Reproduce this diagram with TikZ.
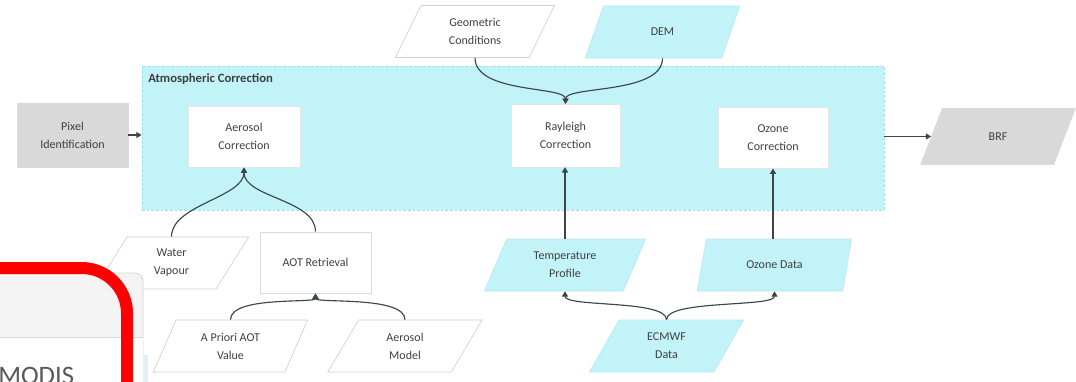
\documentclass[tikz,border=0pt]{standalone}
\usepackage{fontspec}
\setmainfont{Carlito}
\usetikzlibrary{shapes.geometric,arrows.meta}
\definecolor{cyfill}{HTML}{C1F3F8}
\definecolor{cyedge}{HTML}{9EDFE8}
\definecolor{grfill}{HTML}{D9D9D9}
\definecolor{txt}{HTML}{404040}
\definecolor{lnk}{HTML}{3A4648}
\definecolor{pgray}{HTML}{F4F4F4}
\definecolor{pedge}{HTML}{D6D6D6}
\tikzset{
  lbl/.style={font=\fontsize{9}{13.5}\selectfont, text=txt, align=center, inner sep=0pt},
  procbox/.style={lbl, rectangle, draw=black!10, fill=white, line width=0.5pt},
  databox/.style={lbl, trapezium, trapezium left angle=65, trapezium right angle=115,
     trapezium stretches=true, draw=black!18, fill=white, line width=0.5pt,
     minimum width=116pt, minimum height=39pt},
  cydata/.style={databox, draw=cyedge!70, fill=cyfill},
  grdata/.style={databox, draw=grfill, fill=grfill},
  arr/.style={draw=lnk, line width=0.85pt, -{Triangle[width=4.5pt,length=4pt]}}
}
\begin{document}
\begin{tikzpicture}[x=0.75pt,y=-0.75pt]
\useasboundingbox (0,0) rectangle (1076,382);
\clip (0,0) rectangle (1076,382);
\fill[white] (0,0) rectangle (1076,382);

% atmospheric correction container
\node[draw=cyedge, fill=cyfill, dash pattern=on 2pt off 1.5pt, line width=0.6pt,
      minimum width=556.5pt, minimum height=108pt, inner sep=0pt] (atm) at (513,138) {};
\node[anchor=west, font=\fontsize{9.5}{11}\selectfont\bfseries, text=txt, inner sep=0pt] (atmtitle) at (148,79) {Atmospheric Correction};

% process boxes
\node[procbox, draw=grfill, fill=grfill, minimum width=83pt, minimum height=48pt] (pix) at (72.5,135) {Pixel\\Identification};
\node[procbox, minimum width=84pt, minimum height=46pt] (aer) at (244,136.5) {Aerosol\\Correction};
\node[procbox, minimum width=82pt, minimum height=47pt] (ray) at (565.5,135.5) {Rayleigh\\Correction};
\node[procbox, minimum width=82.5pt, minimum height=46pt] (ozc) at (773,137.5) {Ozone\\Correction};
\node[procbox, draw=black!15, minimum width=83pt, minimum height=46pt] (aot) at (315.5,262.5) {AOT Retrieval};

% data parallelograms
\node[databox, minimum width=120pt] (geo) at (475,31.5) {Geometric\\Conditions};
\node[cydata] (dem) at (662.5,32) {DEM};
\node[grdata, minimum height=42pt] (brf) at (998,136.5) {BRF};
\node[cydata, minimum width=121pt] (tmp) at (565,265) {Temperature\\Profile};
\node[cydata] (ozd) at (774.5,265) {Ozone Data};
\node[cydata] (ecm) at (666.5,346) {ECMWF\\Data};
\node[databox] (wat) at (171.5,263) {Water\\Vapour};
\node[databox] (apr) at (230.5,346) {A Priori AOT\\Value};
\node[databox] (aem) at (405,346) {Aerosol\\Model};

% connectors
\draw[arr] (pix.east) -- (pix.east -| atm.west);
\draw[arr] (atm.east |- brf.west) -- (brf.west);
\draw[arr] (geo.south) .. controls +(0,36) and +(0,-18) .. (ray.north);
\draw[arr] (dem.south) .. controls +(0,36) and +(0,-18) .. (ray.north);
\draw[arr] (tmp.north) -- (tmp.north |- ray.south);
\draw[arr] (ozd.north -| ozc.south) -- (ozc.south);
\draw[arr] (ecm.north) .. controls +(0,-20) and +(0,16) .. (tmp.south);
\draw[arr] (ecm.north) .. controls +(0,-20) and +(0,16) .. (ozd.south);
\draw[arr] (wat.north) .. controls +(0,-32) and +(0,30) .. (aer.south);
\draw[arr] (aot.north) .. controls +(0,-32) and +(0,30) .. (aer.south);
\draw[arr] (apr.north) .. controls +(0,-24) and +(0,10) .. (aot.south);
\draw[arr] (aem.north) .. controls +(0,-24) and +(0,10) .. (aot.south);

% overlaid screenshot panel with red highlight
\draw[draw=pedge, fill=pgray, line width=0.6pt, rounded corners=6pt] (-20,273) -- (143,273) -- (143,420) -- (-20,420);
\fill[white] (-20,337) rectangle (142.6,420);
\draw[pedge, line width=0.6pt] (-20,337) -- (143,337);
\fill[cyfill!80!gray!40] (143.5,355) rectangle (148,420);
\node[anchor=base west, font=\fontsize{20}{20}\selectfont, text=black!65, inner sep=0pt] (modis) at (-2,384) {MODIS};
\draw[red, line width=9pt, rounded corners=34pt] (-80,268) -- (127,268) -- (127,460);
\end{tikzpicture}
\end{document}
